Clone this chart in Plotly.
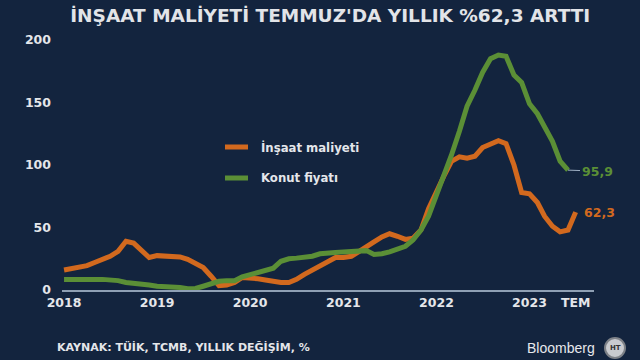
import pandas as pd
import plotly.graph_objects as go

# ---- data ----
orange_start = "2018-01-01"
insaat_maliyeti = [16, 17, 18, 19.5, 22, 24.5, 27, 31, 39, 37.5, 31, 26,
                   27.5, 27, 27, 26.5, 24.5, 21, 18, 11, 3.5, 4, 6, 10,
                   10, 9, 8, 6.5, 6, 6, 8.5, 12.5, 16, 19.5, 23, 26,
                   26, 27, 30.5, 35, 38.5, 42.5, 45, 43, 40.5, 41.5, 48, 65,
                   79, 92, 103, 106.5, 105.5, 107, 114, 117, 119.5, 117, 100, 78,
                   77, 70, 59, 51, 46.5, 48, 62.3]
konut_fiyati = [8.5, 8.3, 8, 8, 8.5, 8.5, 8.5, 7.5, 6, 5.5, 5.5, 4,
                3, 3, 3, 2, 1, 1.2, 3, 5, 7, 7.5, 7.5, 10.5,
                12.5, 14, 15.5, 17.5, 23, 25, 25.5, 26, 27, 29, 30, 30,
                30.5, 31, 31.5, 31.5, 28.5, 29, 30.5, 32.5, 35, 40, 48, 59,
                75, 92, 108, 127, 147, 160, 174, 185, 188, 187, 172, 166,
                149, 141, 131, 119, 103, 95.9]
series_names = ["İnşaat maliyeti", "Konut fiyatı"]
tick_dates = ["2018-01-01", "2019-01-01", "2020-01-01", "2021-01-01",
              "2022-01-01", "2023-01-01", "2023-07-01"]
tick_labels = ["2018", "2019", "2020", "2021", "2022", "2023", "TEM"]
y_ticks = [0, 50, 100, 150, 200]
end_labels = ["62,3", "95,9"]

x_orange = pd.date_range(orange_start, periods=len(insaat_maliyeti), freq="MS")
x_green = pd.date_range(orange_start, periods=len(konut_fiyati), freq="MS")

BG = "#13243e"
ORANGE = "#d2691e"
GREEN = "#5b8f36"
TXT = "#e4e6ea"
FONT = "DejaVu Sans"

fig = go.Figure()
fig.add_trace(go.Scatter(x=x_orange, y=insaat_maliyeti, mode="lines",
                         name=series_names[0], hoverinfo="skip",
                         line=dict(color=ORANGE, width=5)))
fig.add_trace(go.Scatter(x=x_green, y=konut_fiyati, mode="lines",
                         name=series_names[1], hoverinfo="skip",
                         line=dict(color=GREEN, width=5)))

L, R, T, B = 62, 46, 40, 70
W, H = 640, 360
pw, ph = W - L - R, H - T - B

def px(xp):
    return (xp - L) / pw

def py(yp):
    return (H - B - yp) / ph

fig.update_layout(
    width=W, height=H,
    margin=dict(l=L, r=R, t=T, b=B),
    paper_bgcolor=BG, plot_bgcolor=BG,
    showlegend=False,
    font=dict(family=FONT, color=TXT),
    title=dict(text="İNŞAAT MALİYETİ TEMMUZ'DA YILLIK %62,3 ARTTI",
               font=dict(family=FONT, size=18.5, color="#e2e4e8", weight="bold"),
               xref="container", x=0.516, xanchor="center",
               yref="container", y=1 - 16 / H, yanchor="middle"),
    xaxis=dict(range=["2017-12-24", "2023-09-11"], showgrid=False, zeroline=False,
               showline=True, linecolor="#8fa0b4", linewidth=2,
               tickvals=tick_dates, ticktext=tick_labels, ticks="",
               tickfont=dict(family=FONT, size=12.5, color=TXT, weight="bold")),
    yaxis=dict(range=[0, 200], showgrid=False, zeroline=False, showline=False,
               tickvals=y_ticks, ticks="", ticklabelstandoff=10,
               tickfont=dict(family=FONT, size=12.5, color=TXT, weight="bold")),
)

# legend drawn manually
for i, (nm, col, yp) in enumerate([(series_names[0], ORANGE, 147), (series_names[1], GREEN, 178)]):
    fig.add_shape(type="line", xref="paper", yref="paper",
                  x0=px(225), x1=px(248), y0=py(yp), y1=py(yp),
                  line=dict(color=col, width=5))
    fig.add_annotation(xref="paper", yref="paper", x=px(259), y=py(yp),
                       xanchor="left", yanchor="middle", showarrow=False,
                       text=nm, font=dict(family=FONT, size=11.7, color=TXT, weight="bold"))

# end labels
fig.add_annotation(x=x_green[-1], y=konut_fiyati[-1], text=end_labels[1],
                   showarrow=True, ax=29, ay=1, arrowhead=0, arrowwidth=1,
                   arrowcolor="#9fb0c4",
                   font=dict(family=FONT, size=12.5, color=GREEN, weight="bold"))
fig.add_annotation(x=x_orange[-1], y=insaat_maliyeti[-1], text=end_labels[0],
                   showarrow=False, xanchor="left", xshift=6,
                   font=dict(family=FONT, size=12.5, color=ORANGE, weight="bold"))

# footer
fig.add_annotation(xref="paper", yref="paper", x=px(55), y=py(347),
                   xanchor="left", yanchor="middle", showarrow=False,
                   text="KAYNAK: TÜİK, TCMB, YILLIK DEĞİŞİM, %",
                   font=dict(family=FONT, size=11, color=TXT, weight="bold"))
fig.add_annotation(xref="paper", yref="paper", x=px(597), y=py(348),
                   xanchor="right", yanchor="middle", showarrow=False,
                   text="Bloomberg",
                   font=dict(family="Liberation Sans", size=14, color="#e6e8ec"))
fig.add_shape(type="circle", xref="paper", yref="paper",
              x0=px(605), x1=px(625), y0=py(358), y1=py(338),
              fillcolor="#c9cbcf", line=dict(color="#7d8187", width=2))
fig.add_annotation(xref="paper", yref="paper", x=px(615), y=py(348),
                   xanchor="center", yanchor="middle", showarrow=False,
                   text="HT", font=dict(family=FONT, size=7, color="#333", weight="bold"))

fig.write_html("out.html", config={"displayModeBar": False, "staticPlot": True},
               post_script="document.body.style.margin='0';document.body.style.background='%s';" % BG)
